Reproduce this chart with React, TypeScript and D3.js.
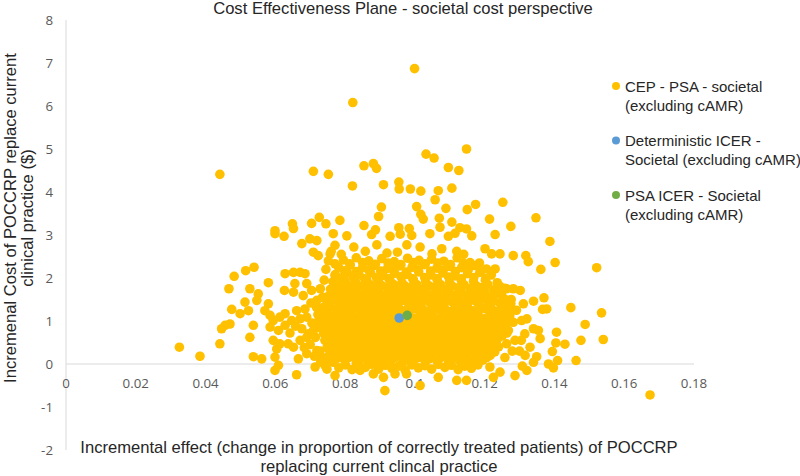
import React from "react";
import * as d3 from "d3";

const xTicks = [0, 0.02, 0.04, 0.06, 0.08, 0.1, 0.12, 0.14, 0.16, 0.18];
const yTicks = [-2, -1, 0, 1, 2, 3, 4, 5, 6, 7, 8];

const titleText = "Cost Effectiveness Plane - societal cost perspective";
const xTitleLines = [
  "Incremental effect (change in proportion of correctly treated patients) of POCCRP",
  "replacing current clincal practice",
];
const yTitleLines = ["Incremenal Cost of POCCRP replace current", "clinical practice ($)"];

const legendItems = [
  { lines: ["CEP - PSA - societal", "(excluding cAMR)"], color: "#FFC000" },
  { lines: ["Deterministic ICER -", "Societal (excluding cAMR)"], color: "#5B9BD5" },
  { lines: ["PSA ICER - Societal", "(excluding cAMR)"], color: "#70AD47" },
];

// sparse / outer points
const psaOuter: [number, number][] = [
  [0.0441, 4.41], [0.0709, 4.48], [0.0752, 4.41], [0.0649, 3.26], [0.0704, 3.27], [0.0726, 3.41], [0.0745, 3.26],
  [0.0599, 3.1], [0.0652, 3.15], [0.0785, 3.34],
  [0.0999, 6.87], [0.0822, 6.08], [0.1032, 4.88], [0.1055, 4.79], [0.1148, 5.0], [0.0854, 4.61], [0.0881, 4.66],
  [0.089, 4.55], [0.1096, 4.57], [0.1126, 4.5], [0.0821, 4.14], [0.091, 4.17], [0.0954, 4.23], [0.0955, 4.07],
  [0.0987, 4.07], [0.1017, 4.02], [0.1067, 4.03], [0.1106, 4.09], [0.1058, 3.82], [0.1005, 3.66], [0.1089, 3.62],
  [0.115, 3.59], [0.1174, 3.71], [0.1252, 3.76], [0.0904, 3.65], [0.0896, 3.43], [0.1017, 3.48], [0.1024, 3.37],
  [0.107, 3.39], [0.1106, 3.3], [0.1214, 3.37], [0.0854, 3.22], [0.0887, 3.12], [0.0954, 3.17], [0.0984, 3.15],
  [0.1072, 3.18], [0.1129, 3.17], [0.1148, 3.14], [0.1275, 3.2], [0.1347, 3.4],
];

const psaRight: [number, number][] = [
  [0.1387, 2.85], [0.1318, 2.52], [0.1325, 2.38], [0.1402, 2.36], [0.1361, 2.2], [0.1521, 2.24], [0.134, 1.46],
  [0.137, 1.54], [0.1366, 1.27], [0.1378, 1.28], [0.1447, 1.31], [0.1535, 1.19], [0.1488, 0.92], [0.1406, 0.74],
  [0.1404, 0.49], [0.143, 0.46], [0.1476, 0.55], [0.154, 0.57], [0.1394, 0.29], [0.1409, 0.08], [0.1383, 0.0],
  [0.1397, -0.09], [0.1462, 0.08], [0.1349, 0.17], [0.1321, -0.15], [0.1306, 1.01], [0.1321, 1.05], [0.134, 0.82],
  [0.1354, 0.78], [0.1359, 0.59], [0.1311, 1.4], [0.133, 0.39], [0.1316, 0.2], [0.134, 0.04], [0.1674, -0.72],
  [0.1302, 1.71], [0.1305, 0.55], [0.13, 0.3], [0.1308, -0.05], [0.1315, 0.7],
  [0.1282, 2.52], [0.1201, 2.68], [0.122, 2.56], [0.1244, 2.56], [0.1282, 1.75], [0.1263, 1.75], [0.1235, 1.75],
  [0.1282, 0.97], [0.1268, 0.78], [0.1287, 0.55], [0.1263, 0.47], [0.1287, -0.27], [0.1215, -0.07], [0.1244, -0.19],
  [0.1225, -0.31], [0.112, -0.38], [0.1148, -0.38], [0.1067, -0.31], [0.1015, -0.5], [0.0914, -0.62], [0.091, -0.31],
  [0.0943, -0.23], [0.0976, -0.23], [0.0843, -0.15], [0.0881, -0.23], [0.123, 2.21], [0.1185, 2.35],
  [0.1272, 1.12], [0.1279, 0.3], [0.1258, 0.15], [0.1276, 1.5], [0.1291, 1.25],
];

const psaLeft: [number, number][] = [
  [0.0325, 0.39], [0.0384, 0.18], [0.0441, 0.47], [0.0446, 0.82], [0.0456, 0.9], [0.047, 0.93], [0.0475, 1.27],
  [0.0467, 1.75], [0.0482, 2.04], [0.0515, 2.17], [0.0539, 2.25], [0.0499, 1.17], [0.0527, 0.62], [0.0537, 0.9],
  [0.0537, 0.17], [0.0561, 0.12], [0.0527, 1.75], [0.0551, 1.63], [0.0547, 1.48], [0.0513, 1.44], [0.0523, 1.24],
  [0.058, 1.89], [0.058, 1.4], [0.057, 1.24], [0.0585, 1.13], [0.0599, 0.16], [0.0599, -0.15], [0.0609, -0.03],
  [0.0661, -0.25], [0.0626, 1.71], [0.0628, 2.1], [0.0652, 2.13], [0.0671, 2.13], [0.0685, 2.1], [0.0599, 3.03],
  [0.0625, 2.97], [0.0676, 2.8], [0.0699, 2.91], [0.0719, 2.87], [0.0709, 2.6], [0.0723, 2.52], [0.0757, 2.56],
  [0.0766, 3.03], [0.0771, 2.76], [0.0656, 1.87], [0.0652, 1.67], [0.068, 1.59], [0.0704, 1.71], [0.069, 1.87],
  [0.0719, 1.48], [0.0747, 1.55], [0.0738, 1.32], [0.0757, 1.44], [0.0771, 2.33], [0.0771, 2.06], [0.0776, 1.83],
  [0.0594, 1.01], [0.0613, 1.09], [0.0628, 1.17], [0.0585, 0.86], [0.0609, 0.78], [0.0628, 0.9], [0.0647, 1.01],
  [0.0671, 1.05], [0.069, 1.09], [0.0661, 1.24], [0.0685, 1.28], [0.0594, 0.55], [0.0613, 0.47], [0.0604, 0.35],
  [0.0637, 0.47], [0.0652, 0.39], [0.0671, 0.55], [0.069, 0.62], [0.0709, 0.78], [0.0666, 0.12], [0.069, 0.24],
  [0.0719, 0.31], [0.0714, -0.07], [0.0742, -0.03], [0.0752, 0.12], [0.0771, -0.27],
  [0.07, 0.45], [0.0715, 0.62], [0.0728, 0.3], [0.0705, 0.95], [0.0722, 1.15], [0.073, 0.05], [0.0712, 0.18],
  [0.0695, 0.7], [0.0725, 0.85], [0.0718, 1.32], [0.0735, 1.55], [0.0729, 1.75], [0.074, 1.95], [0.0745, 2.2],
  [0.0752, 2.4], [0.076, 2.62], [0.0748, -0.12],
  [0.0642, 0.72], [0.0658, 0.88], [0.0683, 0.38], [0.0702, 1.42], [0.0676, 0.82], [0.0735, 0.15], [0.0722, 0.98],
];

const psaTop: [number, number][] = [
  [0.0805, 2.98], [0.0876, 3.01], [0.0929, 2.97], [0.0958, 3.02], [0.0991, 2.99], [0.1043, 3.03], [0.1096, 2.97],
  [0.1115, 3.04], [0.1163, 2.98], [0.123, 3.01],
  [0.0825, 2.72], [0.0858, 2.62], [0.0891, 2.77], [0.092, 2.58], [0.0977, 2.77], [0.1015, 2.72], [0.1049, 2.56],
  [0.1077, 2.68], [0.112, 2.62], [0.0789, 2.55], [0.095, 2.6], [0.114, 2.55],
];

const psaCore: [number, number][] = [
  [0.0795, 2.42], [0.0832, 2.47], [0.0868, 2.4], [0.0905, 2.45], [0.0941, 2.38], [0.0979, 2.46], [0.1012, 2.41],
  [0.1048, 2.44], [0.1083, 2.39], [0.1121, 2.47], [0.1158, 2.36],
  [0.0781, 2.25], [0.0815, 2.3], [0.085, 2.24], [0.0884, 2.29], [0.0921, 2.22], [0.0957, 2.28], [0.0992, 2.25],
  [0.1027, 2.31], [0.1063, 2.23], [0.1098, 2.27], [0.1134, 2.24], [0.1172, 2.29], [0.1205, 2.21],
  [0.0772, 2.08], [0.0806, 2.13], [0.084, 2.07], [0.0873, 2.12], [0.0908, 2.06], [0.0942, 2.11], [0.0978, 2.08],
  [0.1011, 2.14], [0.1046, 2.07], [0.108, 2.12], [0.1115, 2.05], [0.1151, 2.1], [0.1186, 2.13], [0.1219, 2.07],
  [0.0765, 1.91], [0.0798, 1.95], [0.083, 1.9], [0.0862, 1.96], [0.0896, 1.92], [0.0929, 1.94], [0.0963, 1.89],
  [0.0996, 1.95], [0.1031, 1.91], [0.1064, 1.96], [0.1099, 1.9], [0.1133, 1.94], [0.1168, 1.92], [0.1202, 1.95],
  [0.1236, 1.89],
  [0.0758, 1.74], [0.079, 1.78], [0.0823, 1.73], [0.0857, 1.79], [0.0889, 1.75], [0.0922, 1.77], [0.0956, 1.72],
  [0.0989, 1.78], [0.1022, 1.74], [0.1057, 1.79], [0.109, 1.73], [0.1124, 1.77], [0.1158, 1.75], [0.1192, 1.78],
  [0.1226, 1.72], [0.1258, 1.76],
  [0.0752, 1.57], [0.0785, 1.62], [0.0817, 1.56], [0.085, 1.61], [0.0883, 1.58], [0.0915, 1.6], [0.0948, 1.55],
  [0.0982, 1.62], [0.1015, 1.57], [0.1049, 1.61], [0.1082, 1.56], [0.1116, 1.6], [0.115, 1.58], [0.1183, 1.62],
  [0.1217, 1.56], [0.1249, 1.6],
  [0.0748, 1.4], [0.078, 1.45], [0.0812, 1.39], [0.0845, 1.44], [0.0877, 1.41], [0.091, 1.43], [0.0943, 1.38],
  [0.0976, 1.45], [0.1009, 1.4], [0.1042, 1.44], [0.1076, 1.39], [0.1109, 1.43], [0.1142, 1.41], [0.1176, 1.45],
  [0.121, 1.39], [0.1243, 1.42], [0.1275, 1.4],
  [0.0742, 1.23], [0.0775, 1.28], [0.0807, 1.22], [0.084, 1.27], [0.0872, 1.24], [0.0905, 1.26], [0.0938, 1.21],
  [0.097, 1.24], [0.1002, 1.28], [0.1035, 1.23], [0.1068, 1.27], [0.1102, 1.22], [0.1135, 1.26], [0.1168, 1.24],
  [0.1202, 1.28], [0.1236, 1.22], [0.1268, 1.25],
  [0.0738, 1.06], [0.077, 1.11], [0.0802, 1.05], [0.0835, 1.1], [0.0867, 1.07], [0.09, 1.09], [0.0933, 1.04],
  [0.0966, 1.11], [0.0999, 1.06], [0.1032, 1.1], [0.1065, 1.05], [0.1098, 1.09], [0.1131, 1.07], [0.1165, 1.11],
  [0.1198, 1.05], [0.1231, 1.08], [0.1262, 1.06],
  [0.0735, 0.89], [0.0767, 0.94], [0.0799, 0.88], [0.0832, 0.93], [0.0864, 0.9], [0.0897, 0.92], [0.093, 0.87],
  [0.0963, 0.94], [0.0996, 0.89], [0.1029, 0.93], [0.1062, 0.88], [0.1095, 0.92], [0.1128, 0.9], [0.1161, 0.94],
  [0.1194, 0.88], [0.1227, 0.91], [0.1259, 0.89],
  [0.0738, 0.72], [0.077, 0.77], [0.0803, 0.71], [0.0836, 0.76], [0.0868, 0.73], [0.0901, 0.75], [0.0934, 0.7],
  [0.0967, 0.77], [0.1, 0.72], [0.1033, 0.76], [0.1066, 0.71], [0.1099, 0.75], [0.1132, 0.73], [0.1165, 0.77],
  [0.1198, 0.71], [0.1231, 0.74], [0.1264, 0.72],
  [0.0742, 0.55], [0.0775, 0.6], [0.0808, 0.54], [0.0841, 0.59], [0.0873, 0.56], [0.0906, 0.58], [0.0939, 0.53],
  [0.0972, 0.6], [0.1005, 0.55], [0.1038, 0.59], [0.1071, 0.54], [0.1104, 0.58], [0.1137, 0.56], [0.117, 0.6],
  [0.1203, 0.54], [0.1236, 0.57],
  [0.0748, 0.38], [0.0781, 0.43], [0.0814, 0.37], [0.0847, 0.42], [0.0879, 0.39], [0.0912, 0.41], [0.0945, 0.36],
  [0.0978, 0.43], [0.1011, 0.38], [0.1044, 0.42], [0.1077, 0.37], [0.111, 0.41], [0.1143, 0.39], [0.1176, 0.43],
  [0.1209, 0.37], [0.124, 0.4],
  [0.0755, 0.21], [0.0788, 0.26], [0.0821, 0.2], [0.0854, 0.25], [0.0886, 0.22], [0.0919, 0.24], [0.0952, 0.19],
  [0.0985, 0.26], [0.1018, 0.21], [0.1051, 0.25], [0.1084, 0.2], [0.1117, 0.24], [0.115, 0.22], [0.1183, 0.26],
  [0.1216, 0.2],
  [0.0766, 0.04], [0.0799, 0.09], [0.0832, 0.03], [0.0865, 0.08], [0.0898, 0.05], [0.0931, 0.07], [0.0964, 0.02],
  [0.0997, 0.09], [0.103, 0.04], [0.1063, 0.08], [0.1096, 0.03], [0.1129, 0.07], [0.1162, 0.05], [0.1195, 0.09],
  [0.0782, -0.09], [0.082, -0.13], [0.0858, -0.08], [0.0896, -0.12], [0.0934, -0.1], [0.0972, -0.14], [0.101, -0.09],
  [0.1048, -0.12], [0.1086, -0.08], [0.1124, -0.13], [0.1162, -0.1],
];

const psaCoreFill: [number, number][] = [
  [0.0813, 2.33], [0.085, 2.36], [0.0887, 2.32], [0.0923, 2.35], [0.096, 2.31], [0.0995, 2.36], [0.103, 2.33],
  [0.1066, 2.35], [0.1102, 2.31], [0.1139, 2.34],
  [0.0798, 2.17], [0.0832, 2.15], [0.0867, 2.19], [0.0902, 2.16], [0.0939, 2.18], [0.0975, 2.14], [0.1009, 2.19],
  [0.1045, 2.16], [0.1081, 2.18], [0.1116, 2.15], [0.1153, 2.19], [0.1189, 2.16],
  [0.0789, 2.0], [0.0823, 2.02], [0.0856, 1.98], [0.089, 2.01], [0.0925, 1.99], [0.096, 2.03], [0.0994, 1.98],
  [0.1028, 2.01], [0.1063, 1.99], [0.1097, 2.02], [0.1133, 1.98], [0.1169, 2.01], [0.1203, 1.99],
  [0.0774, 1.83], [0.0806, 1.85], [0.084, 1.81], [0.0873, 1.84], [0.0906, 1.82], [0.0939, 1.85], [0.0972, 1.81],
  [0.1006, 1.84], [0.104, 1.82], [0.1073, 1.85], [0.1107, 1.81], [0.1141, 1.84], [0.1175, 1.82], [0.1209, 1.85],
  [0.1243, 1.81],
  [0.0768, 1.66], [0.0801, 1.68], [0.0834, 1.64], [0.0866, 1.67], [0.0899, 1.65], [0.0932, 1.68], [0.0965, 1.64],
  [0.0998, 1.67], [0.1032, 1.65], [0.1065, 1.68], [0.1099, 1.64], [0.1133, 1.67], [0.1166, 1.65], [0.12, 1.68],
  [0.1233, 1.64],
  [0.0764, 1.49], [0.0796, 1.51], [0.0829, 1.47], [0.0861, 1.5], [0.0894, 1.48], [0.0927, 1.51], [0.096, 1.47],
  [0.0993, 1.5], [0.1026, 1.48], [0.1059, 1.51], [0.1093, 1.47], [0.1126, 1.5], [0.1159, 1.48], [0.1193, 1.51],
  [0.1226, 1.47], [0.1259, 1.5],
  [0.0758, 1.32], [0.0791, 1.34], [0.0823, 1.3], [0.0856, 1.33], [0.0889, 1.31], [0.0921, 1.34], [0.0954, 1.3],
  [0.0987, 1.33], [0.1019, 1.31], [0.1052, 1.34], [0.1085, 1.3], [0.1118, 1.33], [0.1152, 1.31], [0.1185, 1.34],
  [0.1219, 1.3], [0.1252, 1.33],
  [0.0754, 1.15], [0.0786, 1.17], [0.0818, 1.13], [0.0851, 1.16], [0.0884, 1.14], [0.0917, 1.17], [0.095, 1.13],
  [0.0983, 1.16], [0.1016, 1.14], [0.1049, 1.17], [0.1082, 1.13], [0.1115, 1.16], [0.1148, 1.14], [0.1181, 1.17],
  [0.1215, 1.13], [0.1247, 1.16],
  [0.0751, 0.98], [0.0783, 1.0], [0.0816, 0.96], [0.0849, 0.99], [0.0881, 0.97], [0.0914, 1.0], [0.0947, 0.96],
  [0.098, 0.99], [0.1013, 0.97], [0.1046, 1.0], [0.1079, 0.96], [0.1112, 0.99], [0.1145, 0.97], [0.1178, 1.0],
  [0.1211, 0.96], [0.1244, 0.99],
  [0.0751, 0.81], [0.0784, 0.83], [0.0817, 0.79], [0.0849, 0.82], [0.0882, 0.8], [0.0915, 0.83], [0.0948, 0.79],
  [0.0981, 0.82], [0.1014, 0.8], [0.1047, 0.83], [0.108, 0.79], [0.1113, 0.82], [0.1146, 0.8], [0.1179, 0.83],
  [0.1212, 0.79], [0.1247, 0.82],
  [0.0755, 0.64], [0.0788, 0.66], [0.0821, 0.62], [0.0854, 0.65], [0.0887, 0.63], [0.092, 0.66], [0.0953, 0.62],
  [0.0986, 0.65], [0.1019, 0.63], [0.1052, 0.66], [0.1085, 0.62], [0.1118, 0.65], [0.1151, 0.63], [0.1184, 0.66],
  [0.1217, 0.62], [0.125, 0.65],
  [0.076, 0.47], [0.0793, 0.49], [0.0826, 0.45], [0.0859, 0.48], [0.0892, 0.46], [0.0925, 0.49], [0.0958, 0.45],
  [0.0991, 0.48], [0.1024, 0.46], [0.1057, 0.49], [0.109, 0.45], [0.1123, 0.48], [0.1156, 0.46], [0.1189, 0.49],
  [0.1222, 0.45],
  [0.0768, 0.3], [0.0801, 0.32], [0.0834, 0.28], [0.0867, 0.31], [0.09, 0.29], [0.0933, 0.32], [0.0966, 0.28],
  [0.0999, 0.31], [0.1032, 0.29], [0.1065, 0.32], [0.1098, 0.28], [0.1131, 0.31], [0.1164, 0.29], [0.1197, 0.32],
  [0.1229, 0.28],
  [0.0777, 0.13], [0.081, 0.15], [0.0843, 0.11], [0.0876, 0.14], [0.0909, 0.12], [0.0942, 0.15], [0.0975, 0.11],
  [0.1008, 0.14], [0.1041, 0.12], [0.1074, 0.15], [0.1107, 0.11], [0.114, 0.14], [0.1173, 0.12], [0.1206, 0.15],
  [0.0801, -0.02], [0.0839, -0.04], [0.0877, -0.01], [0.0915, -0.03], [0.0953, -0.05], [0.0991, -0.02],
  [0.1029, -0.04], [0.1067, -0.01], [0.1105, -0.03], [0.1143, -0.05], [0.1181, -0.02],
];

const deterministicIcer: [number, number][] = [[0.0955, 1.07]];
const psaIcer: [number, number][] = [[0.0978, 1.13]];

const W = 800;
const H = 476;

export default function App() {
  const x = d3.scaleLinear().domain([0, 0.18]).range([66, 694]);
  const y = d3.scaleLinear().domain([-2, 8]).range([450, 20]);
  const psaAll = [...psaOuter, ...psaRight, ...psaLeft, ...psaTop, ...psaCore, ...psaCoreFill];
  const fmt = (v: number) => String(+v.toFixed(2));
  const r = 4.8;
  const sans = "'Liberation Sans', Arial, sans-serif";
  const tickFont = "'Open Sans', sans-serif";
  const yTitleMid = 218;

  return (
    <svg
      width={W}
      height={H}
      style={{ position: "absolute", left: 0, top: 0, background: "#fff" }}
    >
      <rect x={0} y={0} width={W} height={H} fill="#fff" />
      <text x={403} y={14} textAnchor="middle" fontFamily={sans} fontSize={16.6} fill="#262626">
        {titleText}
      </text>

      {/* axes */}
      <line x1={x(0)} x2={x(0)} y1={y(8)} y2={y(-2)} stroke="#D9D9D9" strokeWidth={1} />
      <line x1={x(0)} x2={x(0.18)} y1={y(0)} y2={y(0)} stroke="#D9D9D9" strokeWidth={1} />

      {yTicks.map((t) => (
        <text
          key={"y" + t}
          x={53}
          y={y(t)}
          dy="0.35em"
          textAnchor="end"
          fontFamily={tickFont}
          fontSize={13.3}
          fill="#595959"
        >
          {t}
        </text>
      ))}
      {xTicks.map((t) => (
        <text
          key={"x" + t}
          x={x(t)}
          y={y(0) + 24}
          textAnchor="middle"
          fontFamily={tickFont}
          fontSize={13.3}
          fill="#595959"
        >
          {fmt(t)}
        </text>
      ))}

      {/* axis titles */}
      {xTitleLines.map((l, i) => (
        <text
          key={"xt" + i}
          x={379}
          y={453 + i * 19}
          textAnchor="middle"
          fontFamily={sans}
          fontSize={16.6}
          fill="#262626"
        >
          {l}
        </text>
      ))}
      {yTitleLines.map((l, i) => (
        <text
          key={"yt" + i}
          transform={`translate(${16 + i * 17},${yTitleMid}) rotate(-90)`}
          textAnchor="middle"
          fontFamily={sans}
          fontSize={16.6}
          fill="#262626"
        >
          {l}
        </text>
      ))}

      {/* points */}
      <g>
        {psaAll.map((p, i) => (
          <circle key={"p" + i} cx={x(p[0])} cy={y(p[1])} r={r} fill="#FFC000" />
        ))}
        {deterministicIcer.map((p, i) => (
          <circle key={"d" + i} cx={x(p[0])} cy={y(p[1])} r={r} fill="#5B9BD5" />
        ))}
        {psaIcer.map((p, i) => (
          <circle key={"g" + i} cx={x(p[0])} cy={y(p[1])} r={r} fill="#70AD47" />
        ))}
      </g>

      {/* legend */}
      {legendItems.map((it, i) => (
        <g key={"lg" + i} transform={`translate(616,${86 + i * 54.5})`}>
          <circle cx={0} cy={0} r={4} fill={it.color} />
          {it.lines.map((l, j) => (
            <text
              key={j}
              x={9}
              y={5.5 + j * 19}
              fontFamily={sans}
              fontSize={15}
              fill="#262626"
            >
              {l}
            </text>
          ))}
        </g>
      ))}
    </svg>
  );
}
